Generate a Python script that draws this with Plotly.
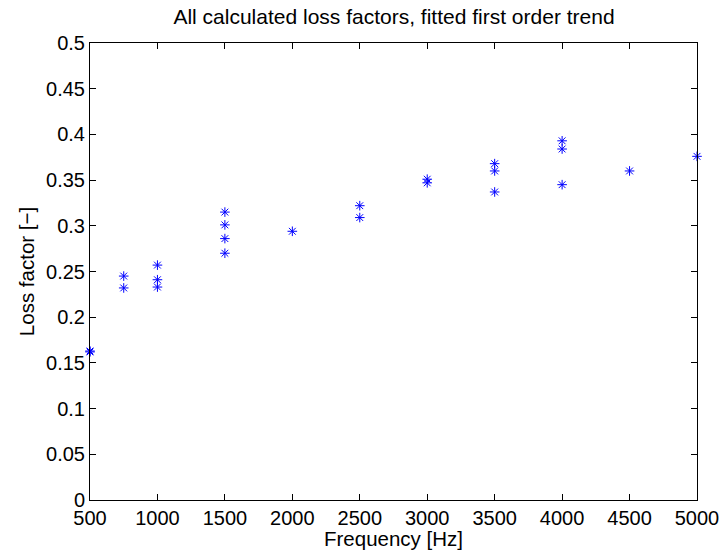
import plotly.graph_objects as go

freq = [500, 500, 750, 750, 1000, 1000, 1000, 1500, 1500, 1500, 1500, 2000,
        2500, 2500, 3000, 3000, 3500, 3500, 3500, 4000, 4000, 4000, 4500, 5000]
loss = [0.163, 0.162, 0.245, 0.232, 0.257, 0.241, 0.233, 0.315, 0.301, 0.286, 0.270, 0.294,
        0.322, 0.309, 0.351, 0.347, 0.368, 0.360, 0.337, 0.393, 0.384, 0.345, 0.360, 0.376]

x_ticks = [500, 1000, 1500, 2000, 2500, 3000, 3500, 4000, 4500, 5000]
y_ticks = [0, 0.05, 0.1, 0.15, 0.2, 0.25, 0.3, 0.35, 0.4, 0.45, 0.5]
y_labels = ["0", "0.05", "0.1", "0.15", "0.2", "0.25", "0.3", "0.35", "0.4", "0.45", "0.5"]

fig = go.Figure()
fig.add_trace(go.Scatter(
    x=freq, y=loss, mode="markers",
    marker=dict(symbol="asterisk-open", size=8, line=dict(color="#0000ff", width=1), color="#0000ff"),
    showlegend=False, cliponaxis=False,
))

font = "Liberation Sans, Arial, Helvetica, sans-serif"
axis_common = dict(
    showgrid=False, zeroline=False, showline=True, linecolor="black", linewidth=1,
    mirror="ticks", ticks="inside", ticklen=6, tickcolor="black", tickwidth=1,
    tickfont=dict(family=font, size=20, color="black"), automargin=False,
)
fig.update_xaxes(range=[500, 5000], tickvals=x_ticks, ticktext=[str(v) for v in x_ticks],
                 title=dict(text="Frequency [Hz]", font=dict(family=font, size=20.5, color="black"), standoff=0),
                 **axis_common)
fig.update_yaxes(range=[0, 0.5], tickvals=y_ticks, ticktext=y_labels,
                 title=dict(text="Loss factor [−]", font=dict(family=font, size=20.5, color="black"), standoff=5),
                 **axis_common)
fig.update_layout(
    width=725, height=550,
    margin=dict(l=90, r=28, t=43, b=50),
    paper_bgcolor="white", plot_bgcolor="white",
    title=dict(text="All calculated loss factors, fitted first order trend",
               font=dict(family=font, size=21, color="black"),
               x=394 / 725, xanchor="center", y=1 - 17 / 550, yanchor="middle"),
)
fig.write_html("out.html")
